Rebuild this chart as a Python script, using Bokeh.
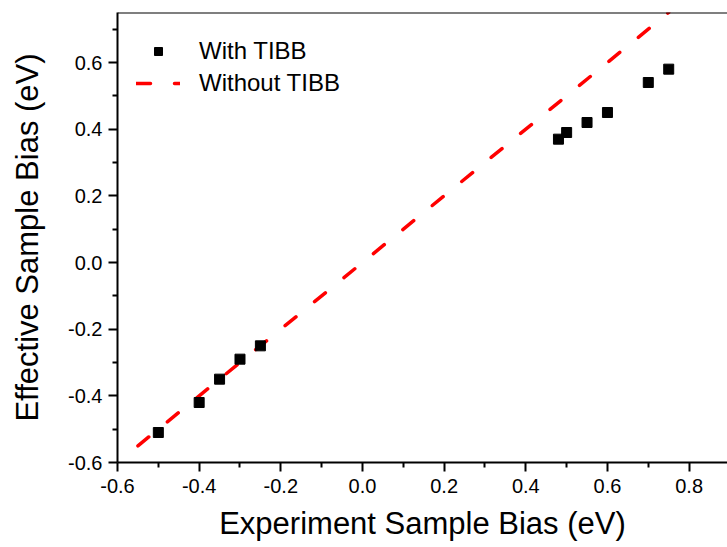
from bokeh.plotting import figure
from bokeh.models import FixedTicker, Range1d, Legend, LegendItem, PrintfTickFormatter, Span
from bokeh.embed import file_html
from bokeh.resources import INLINE

# data
bias_with = [-0.5, -0.4, -0.35, -0.3, -0.25, 0.48, 0.5, 0.55, 0.6, 0.7, 0.75]
eff_with = [-0.51, -0.42, -0.35, -0.29, -0.25, 0.37, 0.39, 0.42, 0.45, 0.54, 0.58]
bias_without = [-0.55, 0.75]
eff_without = [-0.55, 0.75]

x_ticks = [-0.6, -0.4, -0.2, 0.0, 0.2, 0.4, 0.6, 0.8]
x_minor = [-0.5, -0.3, -0.1, 0.1, 0.3, 0.5, 0.7]
y_ticks = [-0.6, -0.4, -0.2, 0.0, 0.2, 0.4, 0.6]
y_minor = [-0.5, -0.3, -0.1, 0.1, 0.3, 0.5, 0.7]

FONT = "Liberation Sans"

p = figure(frame_width=610, frame_height=450, output_backend="svg", toolbar_location=None,
           x_range=Range1d(-0.6, 0.894), y_range=Range1d(-0.6, 0.75),
           min_border_left=117, min_border_right=0, min_border_top=12, min_border_bottom=0)
p.outline_line_color = None
p.grid.visible = False
p.background_fill_color = "white"
p.border_fill_color = "white"

p.xaxis.ticker = FixedTicker(ticks=x_ticks, minor_ticks=x_minor)
p.yaxis.ticker = FixedTicker(ticks=y_ticks, minor_ticks=y_minor)
for ax in (p.xaxis, p.yaxis):
    ax.formatter = PrintfTickFormatter(format="%.1f")
    ax.axis_line_width = 2
    ax.axis_line_color = "black"
    ax.major_tick_line_width = 2
    ax.minor_tick_line_width = 2
    ax.major_tick_line_color = "black"
    ax.minor_tick_line_color = "black"
    ax.major_tick_in = 0
    ax.major_tick_out = 9
    ax.minor_tick_in = 0
    ax.minor_tick_out = 5
    ax.major_label_text_font = FONT
    ax.major_label_text_font_size = "20px"
    ax.major_label_text_color = "black"
    ax.axis_label_text_font = FONT
    ax.axis_label_text_font_size = "31px"
    ax.axis_label_text_font_style = "normal"
    ax.axis_label_text_color = "black"
p.xaxis.axis_label = "Experiment Sample Bias (eV)"
p.yaxis.axis_label = "Effective Sample Bias (eV)"
p.xaxis.major_label_standoff = 7
p.yaxis.major_label_standoff = 6
p.xaxis.axis_label_standoff = 10
p.yaxis.axis_label_standoff = 20

top_line = Span(location=0.75, dimension="width", line_color="black", line_width=2)
p.add_layout(top_line)

line_r = p.line(bias_without, eff_without, line_color="#ff0000", line_width=3.5,
                line_dash="14 24", line_cap="round")
sq_r = p.scatter(bias_with, eff_with, marker="square", size=10, fill_color="black",
                 line_color="black")

legend = Legend(items=[LegendItem(label="With TIBB", renderers=[sq_r]),
                       LegendItem(label="Without TIBB", renderers=[line_r])],
                location=(19, 365), orientation="vertical")
legend.border_line_color = None
legend.background_fill_alpha = 0
legend.padding = 0
legend.margin = 0
legend.spacing = 4
legend.glyph_width = 44
legend.glyph_height = 20
legend.label_standoff = 19
legend.label_text_font = FONT
legend.label_text_font_size = "24px"
legend.label_text_color = "black"
p.add_layout(legend)

open("out.html", "w").write(file_html(p, INLINE))
